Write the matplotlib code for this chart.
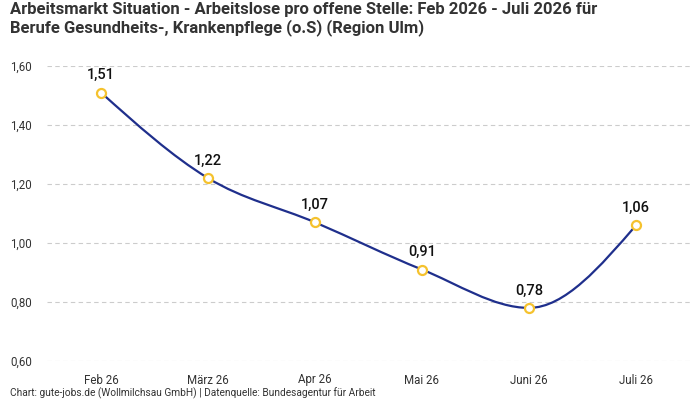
import numpy as np
import matplotlib.pyplot as plt
from matplotlib.path import Path
from matplotlib.patches import PathPatch

plt.rcParams['font.family'] = ['Roboto', 'DejaVu Sans']

months = ['Feb 26', 'März 26', 'Apr 26', 'Mai 26', 'Juni 26', 'Juli 26']
values = [1.51, 1.22, 1.07, 0.91, 0.78, 1.06]
yticks = [0.60, 0.80, 1.00, 1.20, 1.40, 1.60]

title = ('Arbeitsmarkt Situation - Arbeitslose pro offene Stelle: Feb 2026 - Juli 2026 für\n'
         'Berufe Gesundheits-, Krankenpflege (o.S) (Region Ulm)')
footer = 'Chart: gute-jobs.de (Wollmilchsau GmbH) | Datenquelle: Bundesagentur für Arbeit'

line_col = '#1f2f8c'
mark_col = '#f5c22e'


def fmt(v):
    return ('%.2f' % v).replace('.', ',')


def monotone_path(x, y):
    # monotone cubic bezier like d3.curveMonotoneX
    x = np.asarray(x, float); y = np.asarray(y, float)
    n = len(x)
    h = np.diff(x)
    s = np.diff(y) / h
    t = np.zeros(n)
    for i in range(1, n - 1):
        p = (s[i - 1] * h[i] + s[i] * h[i - 1]) / (h[i - 1] + h[i])
        t[i] = (np.sign(s[i - 1]) + np.sign(s[i])) * min(abs(s[i - 1]), abs(s[i]), 0.5 * abs(p))
    t[0] = (3 * s[0] - t[1]) / 2
    t[-1] = (3 * s[-1] - t[-2]) / 2
    verts = [(x[0], y[0])]
    codes = [Path.MOVETO]
    for i in range(n - 1):
        dx = h[i] / 3
        verts += [(x[i] + dx, y[i] + dx * t[i]),
                  (x[i + 1] - dx, y[i + 1] - dx * t[i + 1]),
                  (x[i + 1], y[i + 1])]
        codes += [Path.CURVE4] * 3
    return Path(verts, codes)


fig = plt.figure(figsize=(7, 4), dpi=100)
ax = fig.add_axes([47.5 / 700, 1 - 361 / 400, 642 / 700, 295 / 400])

xs = np.arange(len(months))
ax.add_patch(PathPatch(monotone_path(xs, values), fill=False, edgecolor=line_col, lw=1.6, zorder=3))
ax.plot(xs, values, 'o', ms=6.5, mfc='white', mec=mark_col, mew=1.6, zorder=4, clip_on=False)
for xi, v in zip(xs, values):
    ax.annotate(fmt(v), (xi, v), xytext=(0, 7.5), textcoords='offset points',
                ha='center', va='bottom', fontsize=10.5, fontweight='medium', color='#111111')

ax.set_xlim(-0.5, len(months) - 0.5)
ax.set_ylim(0.6, 1.6)
ax.set_yticks(yticks)
ax.set_yticklabels([fmt(v) for v in yticks])
ax.set_xticks(xs)
ax.set_xticklabels(months)
ax.tick_params(length=0, labelsize=8.3, colors='#333333')
ax.tick_params(axis='y', pad=11)
ax.tick_params(axis='x', pad=9)
for sp in ax.spines.values():
    sp.set_visible(False)
ax.grid(axis='y', color='#cccccc', ls=(0, (4, 3)), lw=0.8)
ax.set_axisbelow(True)

fig.text(10 / 700, 1 - 2 / 400, title, ha='left', va='top', fontsize=12.0,
         fontweight='bold', color='#333333', linespacing=1.15)
fig.text(10 / 700, 1 - 393 / 400, footer, ha='left', va='center', fontsize=7.3, color='#333333')

fig.savefig('out.png', dpi=100)
